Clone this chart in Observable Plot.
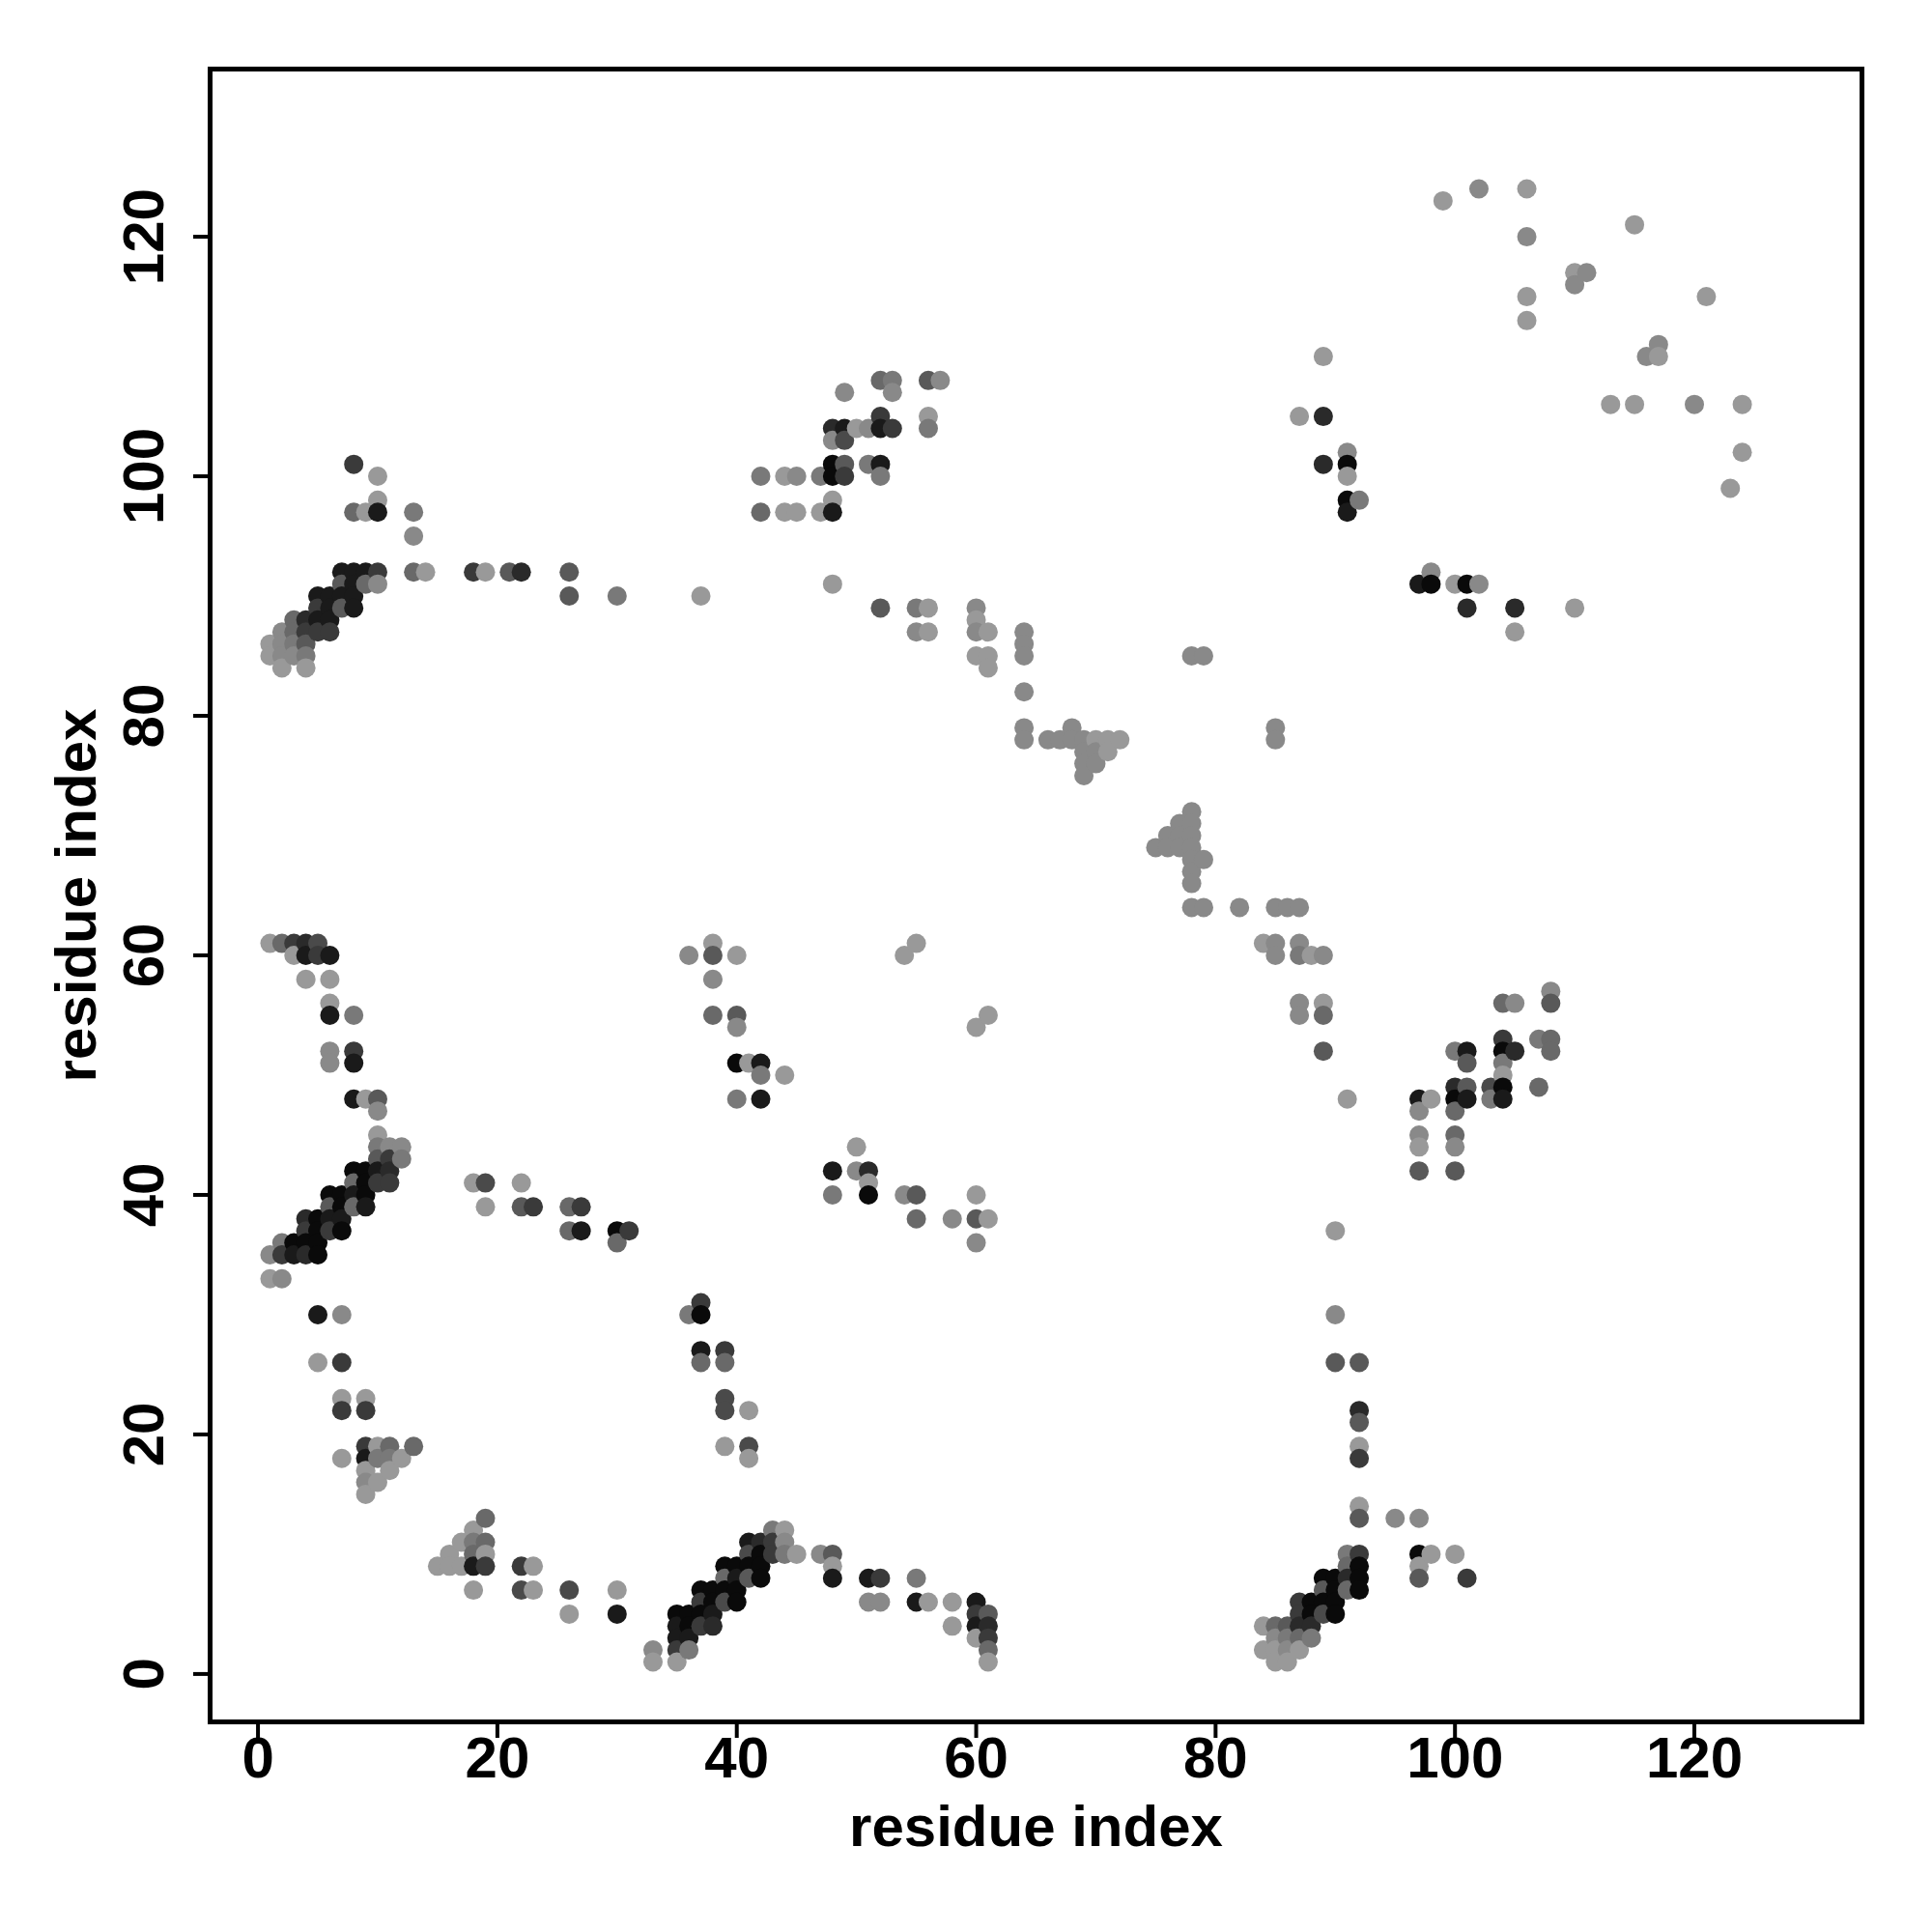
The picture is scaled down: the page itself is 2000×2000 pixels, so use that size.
<!DOCTYPE html>
<html>
<head>
<meta charset="utf-8">
<script src="https://cdn.jsdelivr.net/npm/d3@7"></script>
<script src="https://cdn.jsdelivr.net/npm/@observablehq/plot@0.6"></script>
<style>
  html, body { margin: 0; padding: 0; background: #ffffff; }
  #chart { width: 2000px; height: 2000px; }
</style>
</head>
<body>
<div id="chart"></div>
<script>
// Each entry: [residue i (x), residue j (y), contact strength 0 (weak, light) .. 9 (strong, black)]
const clusterNW = [
  [8,101,6],[10,100,0],[10,98,0],[8,97,3],[9,97,0],[10,97,8],[13,97,2],[13,95,1],[13,92,3],[14,92,0],
  [7,92,8],[8,92,8],[9,92,8],[10,92,6],
  [7,91,4],[8,91,8],[9,91,3],[10,91,1],
  [5,90,8],[6,90,8],[7,90,8],[8,90,8],
  [5,89,6],[6,89,8],[7,89,4],[8,89,8],
  [3,88,3],[4,88,7],[5,88,8],[6,88,8],
  [2,87,1],[3,87,3],[4,87,6],[5,87,6],[6,87,6],
  [1,86,0],[2,86,1],[3,86,2],[4,86,4],
  [1,85,0],[2,85,1],[3,85,1],[4,85,2],
  [2,84,0],[4,84,0]
];
const clusterN = [
  [18,92,6],[19,92,0],[21,92,4],[22,92,7],[26,92,4],[26,90,4],[30,90,2],[37,90,0],[48,91,0],
  [52,89,4],[55,89,2],[56,89,0],[55,87,1],[56,87,0],[60,89,1],[60,88,0],[60,87,1],[61,87,0],[60,85,0],[61,85,0],[61,84,0],
  [49,107,1],[52,108,3],[53,108,2],[53,107,1],[56,108,4],[57,108,1],[56,105,0],[56,104,2],
  [48,104,7],[49,104,8],[50,104,0],[51,104,1],[52,104,8],[53,104,6],[52,105,6],
  [48,103,1],[49,103,5],
  [48,101,9],[49,101,4],[51,101,2],[52,101,8],
  [42,100,2],[44,100,0],[45,100,1],[47,100,2],[48,100,9],[49,100,6],[52,100,2],
  [48,98,0],
  [42,97,3],[44,97,0],[45,97,0],[47,97,0],[48,97,8]
];
const clusterDiag = [
  [64,87,1],[64,86,1],[64,85,1],[64,82,1],[64,79,1],[64,78,1],
  [66,78,1],[67,78,1],[68,78,1],[69,78,1],[70,78,0],[71,78,0],[72,78,0],[68,79,1],
  [69,77,1],[70,77,1],[71,77,0],[69,76,1],[70,76,1],[69,75,1],
  [78,85,1],[79,85,1],[85,79,1],[85,78,1],
  [78,72,1],[77,71,1],[78,71,1],[76,70,1],[77,70,1],[78,70,1],[75,69,1],[76,69,1],[77,69,1],[78,69,1],
  [79,68,1],[78,68,1],[78,67,1],[78,66,1],
  [78,64,1],[79,64,1],[82,64,1],[85,64,1],[86,64,1],[87,64,1]
];
const clusterE = [
  [84,61,0],[85,61,1],[85,60,1],[87,61,1],[87,60,2],[88,60,0],[89,60,1],
  [87,56,1],[89,56,0],[87,55,1],[89,55,3],[89,52,4],[91,48,0],[90,37,0],
  [97,48,8],[98,48,0],[97,47,1],[97,45,1],[97,44,0],[97,42,4],
  [100,49,7],[101,49,4],[100,48,9],[101,48,8],[100,47,3],[100,45,3],[100,44,1],[100,42,4],
  [100,52,2],[101,52,8],[101,51,4],
  [103,49,5],[103,48,2],
  [104,53,6],[104,52,9],[105,52,7],[104,51,2],[104,50,0],[104,49,9],[104,48,8],
  [104,56,3],[105,56,1],
  [107,53,2],[108,53,3],[108,52,3],[107,49,3],
  [108,57,1],[108,56,4]
];
const clusterNE = [
  [99,123,0],[102,124,1],[106,124,0],[106,120,1],[115,121,0],[110,117,0],[111,117,1],[110,116,1],
  [106,115,0],[106,113,0],[121,115,0],[117,111,1],[116,110,1],[117,110,0],[89,110,0],
  [113,106,0],[115,106,0],[120,106,1],[124,106,0],[124,102,0],[123,99,0],
  [87,105,0],[89,105,7],[91,102,1],[89,101,7],[91,101,9],[91,100,0],[91,98,9],[92,98,2],[91,97,8],
  [97,91,8],[98,91,9],[100,91,0],[101,91,9],[102,91,1],[98,92,1],
  [101,89,7],[105,89,7],[110,89,0],[105,87,0]
];
const clusterW = [
  [1,61,0],[2,61,3],[3,61,6],[4,61,7],[5,61,5],
  [3,60,0],[4,60,8],[5,60,6],[6,60,8],
  [4,58,0],[6,58,0],
  [6,56,0],[6,55,8],[8,55,2],
  [6,52,1],[6,51,1],[8,52,6],[8,51,8],
  [8,48,8],[9,48,0],[10,48,4],[10,47,1],
  [10,45,0],[10,44,2],[11,44,1],[12,44,1],
  [10,43,4],[11,43,6],[12,43,2],
  [8,42,9],[9,42,9],[10,42,8],[11,42,7],
  [8,41,3],[9,41,9],[10,41,6],[11,41,6],
  [6,40,9],[7,40,9],[8,40,8],[9,40,9],
  [6,39,4],[7,39,9],[8,39,3],[9,39,8],
  [4,38,7],[5,38,9],[6,38,8],[7,38,8],
  [4,37,6],[5,37,9],[6,37,6],[7,37,9],
  [2,36,2],[3,36,9],[4,36,9],[5,36,9],
  [1,35,1],[2,35,6],[3,35,8],[4,35,7],[5,35,9],
  [1,33,0],[2,33,1],
  [5,30,8],[7,30,1],[5,26,0],[7,26,6],[7,23,0],[9,23,0],[7,22,6],[9,22,6],[7,18,0],
  [9,19,6],[10,19,0],[11,19,3],[13,19,3],
  [9,18,8],[10,18,2],[11,18,2],[12,18,0],
  [9,17,0],[11,17,0],[9,16,1],[10,16,0],[9,15,0]
];
const clusterMid = [
  [38,61,0],[36,60,1],[38,60,4],[40,60,0],[38,58,1],[38,55,3],[40,55,4],[40,54,1],
  [40,51,9],[41,51,0],[42,51,8],[42,50,2],[44,50,0],[40,48,2],[42,48,8],
  [18,41,0],[19,41,5],[22,41,0],[19,39,0],[22,39,4],[23,39,6],[26,39,3],[27,39,6],
  [26,37,3],[27,37,8],[30,37,9],[31,37,6],[30,36,3],
  [55,61,0],[54,60,0],[61,55,0],[60,54,0],[50,44,0],[48,42,8],[50,42,1],[51,42,7],[51,41,0],
  [48,40,2],[51,40,9],[54,40,1],[55,40,4],[55,38,3],[58,38,1],[60,38,4],[61,38,0],[60,40,0],[60,36,1]
];
const clusterS = [
  [37,31,6],[36,30,2],[37,30,9],[37,27,8],[39,27,6],[37,26,3],[39,26,3],[39,23,5],[39,22,5],[41,22,0],
  [39,19,0],[41,19,5],[41,18,0],
  [19,13,3],[18,12,0],[17,11,0],[18,11,2],[19,11,3],[16,10,0],[18,10,3],[19,10,0],
  [15,9,0],[16,9,0],[17,9,0],[18,9,8],[19,9,6],[18,7,0],
  [22,9,6],[23,9,0],[22,7,5],[23,7,0],[26,7,5],[26,5,0],[30,7,0],[30,5,8],
  [33,2,1],[33,1,0],[35,1,0],[35,2,6],[36,2,2],[35,3,8],[36,3,8],
  [35,4,8],[36,4,9],[37,4,6],[38,4,7],
  [35,5,9],[36,5,9],[37,5,9],[38,5,8],
  [37,6,6],[38,6,9],[39,6,5],[40,6,9],
  [37,7,9],[38,7,9],[39,7,9],[40,7,9],
  [39,8,3],[40,8,8],[41,8,4],[42,8,9],
  [39,9,9],[40,9,9],[41,9,9],[42,9,9],
  [41,10,5],[42,10,9],[43,10,6],[44,10,2],[45,10,0],
  [41,11,8],[42,11,7],[43,11,6],[44,11,1],
  [43,12,2],[44,12,0],
  [47,10,1],[48,10,4],[48,9,0],[48,8,8],[51,8,8],[52,8,6],[51,6,1],[52,6,1],[55,8,2],[55,6,8],[56,6,0],
  [58,6,0],[58,4,0],[60,6,8],[60,5,6],[61,5,4],[60,4,8],[61,4,7],[60,3,0],[61,3,6],[61,2,3],[61,1,0]
];
const clusterSE = [
  [90,30,1],[90,26,4],[92,26,4],[92,22,7],[92,21,4],[92,19,0],[92,18,6],[92,14,0],[92,13,4],[95,13,1],[97,13,1],
  [97,10,9],[98,10,0],[100,10,0],[97,9,0],[97,8,4],[101,8,6],
  [91,10,2],[92,10,6],[91,9,3],[92,9,9],
  [89,8,9],[90,8,9],[91,8,7],[92,8,9],
  [89,7,4],[90,7,9],[91,7,3],[92,7,9],
  [87,6,6],[88,6,9],[89,6,9],[90,6,9],
  [87,5,6],[88,5,9],[89,5,5],[90,5,9],
  [84,4,0],[85,4,3],[86,4,4],[87,4,7],[88,4,7],
  [85,3,1],[86,3,2],[87,3,3],[88,3,2],
  [84,2,0],[85,2,0],[86,2,1],[87,2,0],
  [85,1,0],[86,1,0]
];
const xTicks = [0, 20, 40, 60, 80, 100, 120];
const yTicks = [0, 20, 40, 60, 80, 100, 120];
const xTitle = "residue index";
const yTitle = "residue index";

const contacts = [...clusterNW, ...clusterN, ...clusterDiag, ...clusterE, ...clusterNE,
                  ...clusterW, ...clusterMid, ...clusterS, ...clusterSE]
  .map(([i, j, s]) => ({i, j, s}))
  .sort((a, b) => a.i - b.i || b.j - a.j);

const font = "'Liberation Sans', Arial, Helvetica, sans-serif";

const chart = Plot.plot({
  width: 2000,
  height: 2000,
  marginLeft: 217,
  marginRight: 73,
  marginTop: 71,
  marginBottom: 218,
  x: {domain: [-4, 134]},
  y: {domain: [-4, 134]},
  color: {type: "linear", domain: [0, 9], range: ["#999999", "#0a0a0a"]},
  style: {fontFamily: font, fontWeight: "bold", background: "#ffffff", color: "#000000"},
  marks: [
    Plot.dot(contacts, {x: "i", y: "j", fill: "s", r: 10}),
    Plot.frame({stroke: "#000000", strokeWidth: 5}),
    Plot.axisX({ticks: xTicks, tickSize: 17, tickFormat: () => "", label: null, strokeWidth: 4}),
    Plot.axisY({ticks: yTicks, tickSize: 17, tickFormat: () => "", label: null, strokeWidth: 4}),
    Plot.text(xTicks, {x: d => d, frameAnchor: "bottom", dy: 38, text: d => String(d),
      lineAnchor: "middle", textAnchor: "middle", fontSize: 60, fontWeight: "bold", fill: "#000000"}),
    Plot.text(yTicks, {y: d => d, frameAnchor: "left", dx: -68, rotate: -90, text: d => String(d),
      lineAnchor: "middle", textAnchor: "middle", fontSize: 60, fontWeight: "bold", fill: "#000000"}),
    Plot.text([xTitle], {frameAnchor: "bottom", dy: 109, text: d => d,
      lineAnchor: "middle", textAnchor: "middle", fontSize: 60, fontWeight: "bold", fill: "#000000"}),
    Plot.text([yTitle], {frameAnchor: "left", dx: -138, rotate: -90, text: d => d,
      lineAnchor: "middle", textAnchor: "middle", fontSize: 60, fontWeight: "bold", fill: "#000000"})
  ]
});
document.getElementById("chart").appendChild(chart);
</script>
</body>
</html>
